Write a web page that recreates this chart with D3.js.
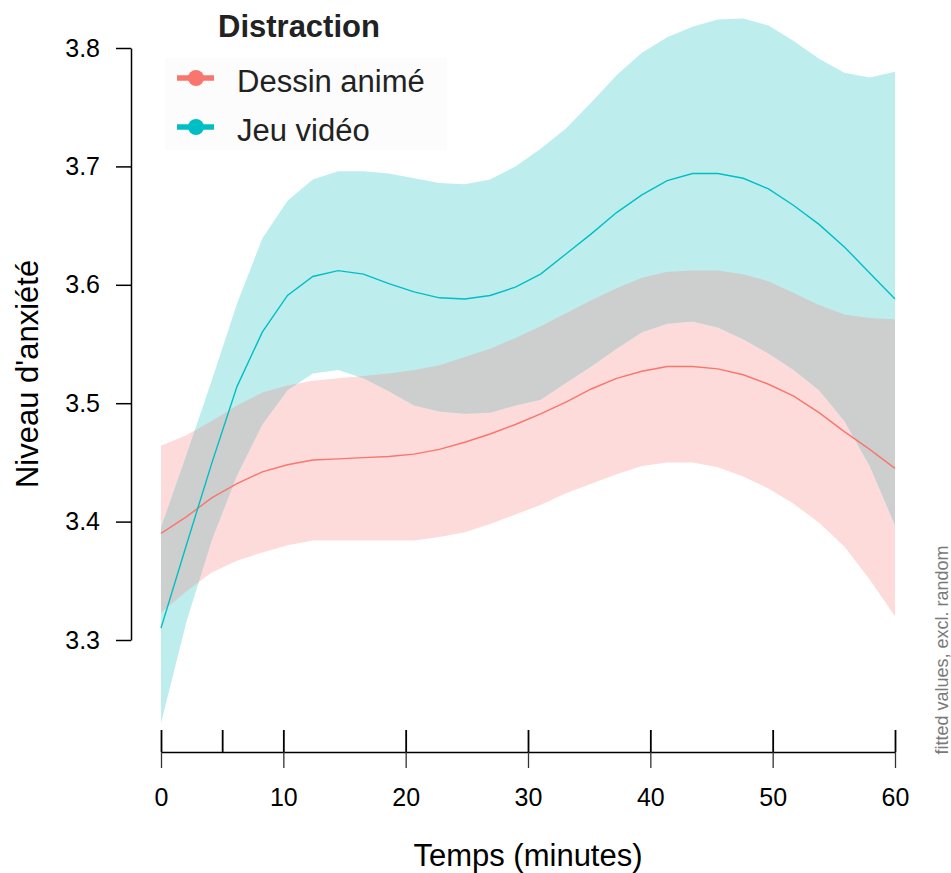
<!DOCTYPE html>
<html>
<head>
<meta charset="utf-8">
<script src="https://cdn.jsdelivr.net/npm/d3@7"></script>
<style>
  html, body { margin: 0; padding: 0; background: #fff; }
  svg { display: block; font-family: "Liberation Sans", Arial, sans-serif; }
</style>
</head>
<body>
<svg id="chart" width="951" height="873"></svg>
<script>
// ---- data ----
const times = [0, 2.07, 4.14, 6.21, 8.28, 10.34, 12.41, 14.48, 16.55, 18.62, 20.69, 22.76, 24.83, 26.90, 28.97,
               31.03, 33.10, 35.17, 37.24, 39.31, 41.38, 43.45, 45.52, 47.59, 49.66, 51.72, 53.79, 55.86, 57.93, 60];

const dessinFit   = [3.390, 3.404, 3.420, 3.432, 3.442, 3.448, 3.452, 3.453, 3.454, 3.455, 3.457, 3.461, 3.467, 3.474, 3.482,
                     3.491, 3.501, 3.512, 3.521, 3.527, 3.531, 3.531, 3.529, 3.524, 3.516, 3.506, 3.492, 3.476, 3.461, 3.445];
const dessinUpper = [3.464, 3.473, 3.485, 3.498, 3.509, 3.515, 3.519, 3.521, 3.523, 3.525, 3.528, 3.532, 3.539, 3.546, 3.555,
                     3.565, 3.576, 3.587, 3.597, 3.606, 3.611, 3.612, 3.612, 3.609, 3.603, 3.593, 3.583, 3.575, 3.572, 3.571];
const dessinLower = [3.323, 3.341, 3.357, 3.367, 3.374, 3.380, 3.384, 3.384, 3.384, 3.384, 3.384, 3.387, 3.391, 3.398, 3.406,
                     3.414, 3.424, 3.432, 3.440, 3.447, 3.450, 3.450, 3.446, 3.438, 3.428, 3.415, 3.399, 3.379, 3.351, 3.320];

const jeuFit   = [3.310, 3.380, 3.449, 3.514, 3.560, 3.591, 3.607, 3.612, 3.609, 3.601, 3.594, 3.589, 3.588, 3.591, 3.598,
                  3.609, 3.626, 3.643, 3.661, 3.676, 3.688, 3.694, 3.694, 3.690, 3.681, 3.667, 3.651, 3.632, 3.610, 3.588];
const jeuUpper = [3.395, 3.456, 3.519, 3.584, 3.639, 3.671, 3.689, 3.696, 3.696, 3.694, 3.690, 3.686, 3.685, 3.689, 3.700,
                  3.715, 3.732, 3.754, 3.777, 3.796, 3.809, 3.818, 3.824, 3.825, 3.819, 3.806, 3.791, 3.779, 3.775, 3.780];
const jeuLower = [3.230, 3.315, 3.384, 3.439, 3.482, 3.511, 3.525, 3.528, 3.521, 3.510, 3.498, 3.493, 3.491, 3.492, 3.498,
                  3.503, 3.517, 3.531, 3.546, 3.560, 3.567, 3.569, 3.564, 3.554, 3.542, 3.528, 3.511, 3.485, 3.447, 3.397];

const seriesNames = ["Dessin animé", "Jeu vidéo"];
const legendTitle = "Distraction";
const yTicks = [3.3, 3.4, 3.5, 3.6, 3.7, 3.8];
const xTicksMajor = [0, 10, 20, 30, 40, 50, 60];
const xTicksInner = [0, 5, 10, 20, 30, 40, 50, 60];
const xTitle = "Temps (minutes)";
const yTitle = "Niveau d'anxiété";
const caption = "fitted values, excl. random";

// ---- styling ----
const colRed = "#F8766D", colCyan = "#00BFC4";
const fillRed = "#FDDBDA", fillCyan = "#BEEDEE", fillBoth = "#CDCFCF";

const svg = d3.select("#chart");
const x = d3.scaleLinear().domain([0, 60]).range([161, 895]);
const y = d3.scaleLinear().domain([3.3, 3.8]).range([640, 48]);

const rows = times.map((t, i) => ({
  t, df: dessinFit[i], du: dessinUpper[i], dl: dessinLower[i],
  jf: jeuFit[i], ju: jeuUpper[i], jl: jeuLower[i]
}));

const areaD = d3.area().x(d => x(d.t)).y0(d => y(d.dl)).y1(d => y(d.du));
const areaJ = d3.area().x(d => x(d.t)).y0(d => y(d.jl)).y1(d => y(d.ju));
const lineD = d3.line().x(d => x(d.t)).y(d => y(d.df));
const lineJ = d3.line().x(d => x(d.t)).y(d => y(d.jf));

svg.append("defs").append("clipPath").attr("id", "clipJ")
  .append("path").attr("d", areaJ(rows));

svg.append("path").attr("d", areaD(rows)).attr("fill", fillRed);
svg.append("path").attr("d", areaJ(rows)).attr("fill", fillCyan);
svg.append("path").attr("d", areaD(rows)).attr("fill", fillBoth).attr("clip-path", "url(#clipJ)");

svg.append("path").attr("d", lineD(rows)).attr("fill", "none").attr("stroke", colRed).attr("stroke-width", 1.4);
svg.append("path").attr("d", lineJ(rows)).attr("fill", "none").attr("stroke", colCyan).attr("stroke-width", 1.4);

// ---- y axis ----
const yAxis = svg.append("g").attr("transform", "translate(131,0)")
  .call(d3.axisLeft(y).tickValues(yTicks).tickFormat(d3.format(".1f")).tickSize(15).tickSizeOuter(0).tickPadding(16));
yAxis.select(".domain").attr("stroke", "#000").attr("stroke-width", 1.5);
yAxis.selectAll(".tick line").attr("stroke", "#000").attr("stroke-width", 1.5);
yAxis.selectAll(".tick text").attr("font-size", 25).attr("fill", "#000")
  .attr("font-family", "'Liberation Sans', Arial, sans-serif");

// ---- x axis ----
const xAxisTop = svg.append("g").attr("transform", "translate(0,752)")
  .call(d3.axisTop(x).tickValues(xTicksInner).tickSize(22).tickSizeOuter(0).tickFormat(""));
xAxisTop.select(".domain").attr("stroke", "#000").attr("stroke-width", 1.5);
xAxisTop.selectAll(".tick line").attr("stroke", "#000").attr("stroke-width", 1.8);

const xAxis = svg.append("g").attr("transform", "translate(0,752)")
  .call(d3.axisBottom(x).tickValues(xTicksMajor).tickSize(16).tickSizeOuter(0).tickPadding(20));
xAxis.select(".domain").remove();
xAxis.selectAll(".tick line").attr("stroke", "#333").attr("stroke-width", 1.3);
xAxis.selectAll(".tick text").attr("font-size", 25).attr("fill", "#000")
  .attr("font-family", "'Liberation Sans', Arial, sans-serif");

// ---- titles ----
svg.append("text").attr("x", 528).attr("y", 866).attr("text-anchor", "middle")
  .attr("font-size", 31).attr("fill", "#000").text(xTitle);
svg.append("text").attr("transform", "translate(38,374) rotate(-90)").attr("text-anchor", "middle")
  .attr("font-size", 31).attr("fill", "#000").text(yTitle);
svg.append("text").attr("transform", "translate(948,650) rotate(-90)").attr("text-anchor", "middle")
  .attr("font-size", 18).attr("fill", "#7a7a7a").text(caption);

// ---- legend ----
const lg = svg.append("g");
lg.append("rect").attr("x", 165).attr("y", 58).attr("width", 282).attr("height", 92).attr("fill", "#fcfcfc");
lg.append("text").attr("x", 218).attr("y", 37).attr("font-size", 31).attr("font-weight", "bold")
  .attr("fill", "#222").text(legendTitle);
const keyY = [78, 127];
const keyCol = [colRed, colCyan];
seriesNames.forEach((name, i) => {
  lg.append("line").attr("x1", 177).attr("x2", 214).attr("y1", keyY[i]).attr("y2", keyY[i])
    .attr("stroke", keyCol[i]).attr("stroke-width", 5.5);
  lg.append("circle").attr("cx", 196).attr("cy", keyY[i]).attr("r", 8).attr("fill", keyCol[i]);
  lg.append("text").attr("x", 237).attr("y", keyY[i] + 14).attr("font-size", 31).attr("fill", "#222").text(name);
});
</script>
</body>
</html>
